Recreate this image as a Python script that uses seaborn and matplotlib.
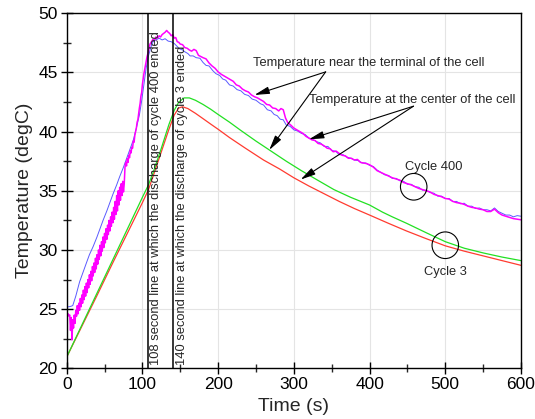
import matplotlib
matplotlib.use("Agg")
import matplotlib.pyplot as plt
import seaborn as sns
import pandas as pd
from matplotlib.ticker import MultipleLocator
from matplotlib.patches import Ellipse

# ---------------- data ----------------
# Cycle 3, thermocouple near the terminal (green)
t_c3_terminal = [0, 20, 40, 60, 80, 100, 108, 115, 125, 135, 142, 148, 155, 162, 170,
                 180, 190, 200, 215, 230, 250, 270, 290, 310, 330, 353, 375, 400, 417,
                 430, 449, 475, 500, 525, 550, 575, 600]
T_c3_terminal = [20.95, 23.65, 26.35, 29.05, 31.75, 34.45, 35.5, 36.7, 38.6, 40.6, 41.8,
                 42.5, 42.85, 42.85, 42.65, 42.3, 41.9, 41.45, 40.8, 40.1, 39.2, 38.35,
                 37.5, 36.7, 35.95, 35.1, 34.45, 33.8, 33.2, 32.8, 32.25, 31.45, 30.7,
                 30.15, 29.75, 29.4, 29.1]

# Cycle 3, thermocouple at the centre (red)
t_c3_center = [0, 20, 40, 60, 80, 100, 108, 115, 125, 135, 142, 148, 153, 160, 170,
               180, 191, 200, 215, 236, 260, 281, 300, 320, 340, 360, 380, 400, 425,
               449, 475, 500, 525, 550, 575, 600]
T_c3_center = [20.95, 23.55, 26.15, 28.8, 31.4, 34.0, 35.1, 36.4, 38.3, 40.2, 41.4,
               42.0, 42.1, 41.95, 41.55, 41.1, 40.6, 40.2, 39.5, 38.6, 37.6, 36.85,
               36.1, 35.4, 34.75, 34.1, 33.5, 32.95, 32.25, 31.6, 30.95, 30.35, 29.9,
               29.5, 29.1, 28.7]

# Cycle 400, thermocouple at the centre (blue)
t_c400_center = [0, 3, 6, 8, 12, 17, 22, 26, 30, 35, 40, 44, 48, 53, 57, 61, 66, 70, 75,
                 79, 84, 88, 92, 96, 99, 102, 105, 108, 111, 114, 118, 122, 126, 130,
                 134, 138, 142, 146, 149, 153, 156, 160, 163, 167, 171, 176, 180, 184,
                 188, 193, 197, 202, 206, 210, 215, 220, 225, 230, 235, 240, 245, 250,
                 256, 260, 265, 270, 274, 278, 282, 286, 290, 295, 300, 305, 310, 315,
                 320, 325, 330, 335, 340, 345, 350, 355, 360, 365, 370, 375, 380, 385,
                 390, 395, 400, 405, 410, 415, 420, 425, 430, 435, 440, 445, 450, 455,
                 460, 465, 470, 475, 480, 485, 490, 495, 500, 505, 510, 515, 520, 525,
                 530, 535, 540, 545, 550, 555, 560, 565, 570, 575, 580, 585, 590, 595,
                 600]
T_c400_center = [25.2, 25.2, 25.25, 25.3, 26.1, 27.3, 28.2, 28.9, 29.6, 30.3, 31.1, 31.8,
                 32.5, 33.3, 34.0, 34.7, 35.5, 36.2, 37.0, 37.7, 38.6, 39.3, 40.3, 41.4,
                 42.6, 44.0, 45.4, 46.4, 47.1, 47.6, 47.75, 47.9, 47.75, 47.85, 47.65,
                 47.6, 47.45, 47.2, 47.0, 46.9, 46.75, 46.6, 46.4, 46.4, 46.25, 46.2, 45.85,
                 45.6, 45.55, 45.15, 44.9, 44.75, 44.45, 44.35, 43.95, 43.85, 43.55, 43.45,
                 43.15, 43.05, 42.75, 42.65, 42.35, 42.25, 41.85, 41.75, 41.45, 41.35,
                 41.05, 41.0, 40.55, 40.45, 40.15, 40.05, 39.85, 39.75, 39.45, 39.35,
                 39.15, 39.05, 38.75, 38.75, 38.4, 38.35, 38.05, 38.05, 37.85, 37.75,
                 37.6, 37.55, 37.35, 37.35, 37.15, 37.05, 36.75, 36.55, 36.35, 36.3,
                 36.05, 36.05, 35.85, 35.8, 35.55, 35.55, 35.35, 35.3, 35.05, 35.05,
                 34.85, 34.8, 34.55, 34.55, 34.35, 34.35, 34.1, 34.1, 33.9, 33.95, 33.7,
                 33.7, 33.5, 33.55, 33.4, 33.4, 33.3, 33.55, 33.25, 33.1, 32.95, 32.95,
                 32.8, 32.9, 32.85]

# Cycle 400, thermocouple near the terminal (magenta, noisy)
t_c400_terminal = list(range(0, 101)) + [
    102, 104, 106, 108, 110, 112, 114, 116, 118, 120, 122, 124, 126, 128, 130, 132, 134,
    136, 138, 140, 142, 144, 146, 148, 150, 153, 156, 159, 162, 165, 168, 171, 174, 177,
    180, 184, 188, 192, 196, 200, 204, 208, 212, 216, 220, 224, 228, 232, 236, 240, 244,
    248, 252, 256, 260, 264, 268, 272, 276, 280, 283, 286, 289, 292, 296, 300, 304, 308,
    312, 316, 320, 324, 328, 332, 336, 340, 344, 348, 352, 356, 360, 364, 368, 372, 376,
    380, 384, 388, 392, 396, 400, 405, 410, 415, 420, 425, 430, 435, 440, 445, 450, 455,
    460, 465, 470, 475, 480, 485, 490, 495, 500, 505, 510, 515, 520, 525, 530, 535, 540,
    545, 550, 555, 560, 565, 570, 575, 580, 585, 590, 595, 600]
T_c400_terminal = [
    24.6, 24.5, 24.6, 24.4, 24.5, 23.2, 24.3, 22.4, 24.1, 23.4,
    24.5, 23.8, 24.9, 24.4, 25.3, 24.6, 25.5, 24.9, 25.9, 25.2, 26.2, 25.5, 26.6, 25.8,
    26.9, 26.1, 27.2, 26.4, 27.5, 26.8, 27.9, 27.1, 28.2, 27.4, 28.6, 27.8, 28.9, 28.1,
    29.3, 28.4, 29.6, 28.8, 30.0, 29.2, 30.4, 29.5, 30.7, 29.9, 31.1, 30.2, 31.4, 30.6,
    31.8, 30.9, 32.1, 31.3, 32.5, 31.6, 32.8, 32.0, 33.2, 32.3, 33.6, 32.6, 34.1, 33.0,
    34.6, 33.3, 35.0, 33.8, 35.3, 34.2, 35.6, 34.6, 35.8, 34.9, 35.6,
    37.0, 37.4, 37.1, 37.7, 37.4, 38.0, 37.8, 38.4, 38.2, 38.7, 38.6, 39.2, 39.1, 39.7,
    40.0, 40.3, 40.8, 41.0, 41.5, 42.0, 42.4, 43.0, 43.3, 44.0,
    44.9, 45.6, 46.3, 46.8, 47.4, 47.6, 47.8, 47.7, 48.0, 47.9, 48.1, 48.0, 48.2, 48.3,
    48.4, 48.55, 48.4, 48.3, 48.1, 48.2, 47.9, 47.95, 47.6, 47.55, 47.4, 47.35, 47.1,
    47.05, 46.9, 46.8, 46.95, 46.85, 46.45, 46.35, 46.25, 46.15, 45.8, 45.55, 45.35,
    45.05, 44.85, 44.7, 44.55, 44.4, 44.25, 43.95, 43.85, 43.6, 43.45, 43.35, 43.1, 42.95,
    42.85, 42.7, 42.55, 42.3, 42.25, 42.0, 41.95, 41.75, 41.95, 41.85, 41.15, 40.75,
    40.55, 40.3, 40.15, 40.0, 39.85, 39.6, 39.45, 39.3, 39.25, 39.0, 38.95, 38.8, 38.6,
    38.55, 38.3, 38.35, 38.15, 38.0, 37.95, 37.75, 37.75, 37.6, 37.65, 37.4, 37.35, 37.3,
    37.2, 37.0, 36.7, 36.55, 36.4, 36.25, 36.1, 36.0, 35.9, 35.7, 35.6, 35.5, 35.35,
    35.2, 35.1, 35.0, 34.9, 34.7, 34.6, 34.5, 34.35, 34.3, 34.1, 34.0, 33.95, 33.85,
    33.7, 33.6, 33.55, 33.45, 33.4, 33.25, 33.25, 33.45, 33.15, 32.95, 32.85, 32.75,
    32.65, 32.6, 32.55]

# ---------------- style ----------------
sns.set_theme(style="white")
plt.rcParams["font.family"] = ["Liberation Sans", "DejaVu Sans"]

W, H = 535, 419
fig = plt.figure(figsize=(W / 100, H / 100), dpi=100)
left, right, top, bottom = 66.7, 521.0, 13.3, 368.3
ax = fig.add_axes([left / W, 1 - bottom / H, (right - left) / W, (bottom - top) / H])

series = [
    (t_c3_center, T_c3_center, "#ff3b30", 0.9),
    (t_c3_terminal, T_c3_terminal, "#22e022", 0.9),
    (t_c400_center, T_c400_center, "#5a5aff", 0.7),
    (t_c400_terminal, T_c400_terminal, "#ff00ff", 1.1),
]
for tx, ty, col, lw in series:
    df = pd.DataFrame({"t": tx, "T": ty})
    sns.lineplot(data=df, x="t", y="T", ax=ax, color=col, lw=lw,
                 estimator=None, sort=False)

ax.set_xlim(0, 600)
ax.set_ylim(20, 50)
ax.xaxis.set_major_locator(MultipleLocator(100))
ax.xaxis.set_minor_locator(MultipleLocator(50))
ax.yaxis.set_major_locator(MultipleLocator(5))
ax.yaxis.set_minor_locator(MultipleLocator(2.5))
ax.grid(True, which="major", color="#e4e4e4", lw=0.8)
ax.set_axisbelow(True)
for sp in ax.spines.values():
    sp.set_color("black")
    sp.set_linewidth(1.0)
ax.tick_params(which="major", direction="inout", length=9, width=1.0,
               labelsize=12.5, pad=2, colors="black", bottom=True, left=True,
               top=False, right=False)
ax.tick_params(which="minor", direction="inout", length=6, width=1.0,
               bottom=True, left=True, top=False, right=False)
ax.set_xlabel("Time (s)", fontsize=14, labelpad=4)
ax.set_ylabel("Temperature (degC)", fontsize=14, labelpad=4)

# discharge-end markers
ax.axvline(108, color="black", lw=1.1, zorder=5)
ax.axvline(140, color="black", lw=1.1, zorder=5)
fs = 9.3
ax.text(110.0, 20.25, "108 second line at which the discharge of cycle 400 ended",
        rotation=90, ha="left", va="bottom", fontsize=fs)
ax.text(144.0, 20.3, "140 second line at which the discharge of cycle 3 ended",
        rotation=90, ha="left", va="bottom", fontsize=fs)

# annotations
arrow = dict(arrowstyle="-|>,head_length=0.9,head_width=0.22", color="black",
             lw=0.8, shrinkA=0, shrinkB=0, mutation_scale=10)
ax.text(245.5, 45.82, "Temperature near the terminal of the cell",
        ha="left", va="center", fontsize=fs)
ax.annotate("", xy=(248, 43.1), xytext=(342, 45.05), arrowprops=arrow)
ax.annotate("", xy=(267.5, 38.45), xytext=(342, 45.05), arrowprops=arrow)

ax.text(320, 42.67, "Temperature at the center of the cell",
        ha="left", va="center", fontsize=fs)
ax.annotate("", xy=(320, 39.35), xytext=(458, 42.15), arrowprops=arrow)
ax.annotate("", xy=(309, 35.95), xytext=(458, 42.15), arrowprops=arrow)

ax.add_patch(Ellipse((458.3, 35.34), 35, 2.25, fill=False, ec="black", lw=0.8, zorder=6))
ax.add_patch(Ellipse((500, 30.4), 35, 2.25, fill=False, ec="black", lw=0.8, zorder=6))
ax.text(484.6, 37.03, "Cycle 400", ha="center", va="center", fontsize=fs)
ax.text(500, 28.16, "Cycle 3", ha="center", va="center", fontsize=fs)

fig.savefig("out.png", dpi=100)
